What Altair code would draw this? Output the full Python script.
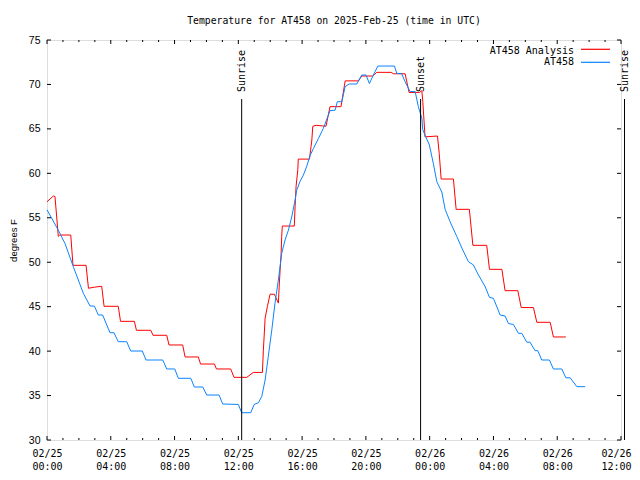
import altair as alt
import pandas as pd

series_names = ["AT458 Analysis", "AT458"]
series_colors = ["#FF0000", "#0A84FF"]

red_hours = [0.00, 0.40, 0.50, 0.71, 0.80, 1.49, 1.63, 2.45, 2.60, 3.00, 3.43, 3.58, 4.47, 4.61, 5.48, 5.61,
             6.51, 6.65, 7.51, 7.65, 8.51, 8.66, 9.49, 9.63, 10.50, 10.63, 11.52, 11.73, 12.53, 12.94, 13.51,
             13.57, 13.68, 13.82, 13.99, 14.26, 14.51, 14.56, 14.62, 14.68, 14.72, 14.76, 15.51, 15.56, 15.62,
             15.73, 15.76, 16.46, 16.56, 16.61, 16.67, 16.88, 17.50, 17.75, 18.44, 18.70, 19.53, 19.74, 20.43,
             20.68, 21.58, 21.73, 22.46, 22.71, 23.36, 23.51, 23.57, 23.71, 24.49, 24.60, 24.72, 25.49, 25.66,
             26.49, 26.71, 27.58, 27.75, 28.53, 28.73, 29.53, 29.74, 30.51, 30.72, 31.56, 31.76, 32.54]
red_temps = [56.8, 57.45, 57.4, 52.9, 53.06, 53.06, 49.65, 49.65, 47.07, 47.2, 47.3, 45.04, 45.04, 43.35, 43.35,
             42.34, 42.34, 41.78, 41.78, 40.69, 40.69, 39.34, 39.34, 38.55, 38.55, 37.99, 37.99, 37.05, 37.05,
             37.6, 37.6, 40.1, 43.7, 45.0, 46.4, 46.4, 45.4, 47.2, 49.1, 50.8, 52.9, 54.07, 54.07, 56.25, 58.5,
             60.4, 61.6, 61.6, 63.0, 63.75, 65.3, 65.4, 65.3, 67.5, 67.5, 70.4, 70.4, 70.95, 70.95, 71.36, 71.36,
             71.2, 71.2, 69.1, 69.1, 69.3, 68.06, 64.1, 64.2, 62.25, 59.36, 59.36, 55.95, 55.95, 51.9, 51.9,
             49.2, 49.2, 46.8, 46.8, 44.9, 44.9, 43.24, 43.24, 41.59, 41.59]

blue_hours = [0.00, 0.71, 1.13, 1.65, 2.28, 2.70, 2.97, 3.22, 3.49, 3.95, 4.20, 4.47, 5.00, 5.25, 5.98, 6.21,
              7.26, 7.51, 8.01, 8.24, 9.02, 9.24, 9.77, 10.02, 10.79, 11.02, 12.00, 12.21, 12.78, 12.99, 13.26,
              13.47, 13.68, 13.88, 14.10, 14.30, 14.51, 14.72, 14.93, 15.14, 15.35, 15.56, 15.66, 15.87, 16.08,
              16.29, 16.50, 16.71, 17.02, 17.33, 17.75, 18.07, 18.21, 18.49, 18.70, 18.95, 19.43, 19.74, 20.01,
              20.22, 20.47, 20.75, 21.79, 21.94, 22.25, 22.46, 22.77, 23.09, 23.29, 23.51, 23.57, 23.71, 23.98,
              24.23, 24.45, 24.76, 24.97, 25.28, 25.70, 26.02, 26.43, 26.74, 27.06, 27.48, 27.75, 28.00, 28.42,
              28.73, 28.94, 29.25, 29.57, 29.78, 30.09, 30.30, 30.61, 30.78, 31.03, 31.51, 31.76, 32.29, 32.54,
              32.81, 33.23, 33.75]
blue_temps = [55.9, 53.6, 52.1, 49.5, 46.5, 45.07, 45.07, 44.06, 44.06, 42.07, 42.07, 41.06, 41.06, 40.01, 40.01,
              39.0, 39.0, 37.99, 37.99, 36.94, 36.94, 35.96, 35.96, 35.06, 35.06, 34.05, 34.0, 33.07, 33.07, 34.0,
              34.2, 34.9, 36.75, 39.4, 42.4, 45.4, 48.0, 51.0, 52.5, 53.6, 55.1, 57.0, 58.1, 59.1, 59.8, 60.8,
              62.0, 62.8, 63.9, 65.06, 67.05, 67.1, 68.06, 68.06, 69.75, 70.05, 70.05, 71.06, 71.06, 70.1, 71.06,
              72.07, 72.07, 71.25, 71.2, 70.3, 69.2, 69.2, 67.5, 66.2, 64.9, 64.3, 63.2, 61.1, 59.06, 57.9, 55.95,
              54.56, 52.9, 51.6, 50.06, 49.7, 48.56, 47.25, 46.05, 45.94, 44.06, 43.95, 43.1, 43.0, 42.0, 42.0,
              41.0, 41.0, 40.05, 40.05, 39.0, 39.0, 37.99, 37.99, 37.0, 37.0, 36.0, 36.0]

sun_names = ["Sunrise", "Sunset", "Sunrise"]
sun_hours = [12.21, 23.43, 36.22]

x_tick_hours = [0, 4, 8, 12, 16, 20, 24, 28, 32, 36]
x_minor_hours = [1, 2, 3, 5, 6, 7, 9, 10, 11, 13, 14, 15, 17, 18, 19, 21, 22, 23, 25, 26, 27, 29, 30, 31, 33, 34, 35]
x_day_labels = ["02/25", "02/25", "02/25", "02/25", "02/25", "02/25", "02/26", "02/26", "02/26", "02/26"]
x_time_labels = ["00:00", "04:00", "08:00", "12:00", "16:00", "20:00", "00:00", "04:00", "08:00", "12:00"]
y_tick_values = [30, 35, 40, 45, 50, 55, 60, 65, 70, 75]

W, H = 574, 400
MONO = "DejaVu Sans Mono"
SANS = "Liberation Sans"

df = pd.concat([
    pd.DataFrame({"series": series_names[0], "h": red_hours, "temp": red_temps}),
    pd.DataFrame({"series": series_names[1], "h": blue_hours, "temp": blue_temps}),
])
sun_df = pd.DataFrame({"name": sun_names, "h": sun_hours})
major_df = pd.DataFrame({"h": x_tick_hours})
minor_df = pd.DataFrame({"h": x_minor_hours})
ytick_df = pd.DataFrame({"temp": y_tick_values})
legend_df = pd.DataFrame({"series": series_names, "row": [0, 1]})

label_expr = "[" + ",".join(f"['{d}','{t}']" for d, t in zip(x_day_labels, x_time_labels)) + "][round(datum.value/4)]"

xscale = alt.Scale(domain=[0, 36], nice=False, zero=False)
yscale = alt.Scale(domain=[30, 75], nice=False, zero=False)
color = alt.Color("series:N", scale=alt.Scale(domain=series_names, range=series_colors), legend=None)

x_main = alt.X("h:Q", scale=xscale, axis=alt.Axis(
    values=x_tick_hours, labelExpr=label_expr, ticks=False, domain=False, grid=False,
    labelFont=MONO, labelFontSize=10, labelPadding=8, labelLineHeight=13, labelColor="black",
    labelBaseline="top", labelAngle=0, labelFlush=False, labelOverlap=False, title=None,
    labelOffset={"condition": {"test": "datum.value >= 36", "value": -5}, "value": 0}))
y_main = alt.Y("temp:Q", scale=yscale, axis=alt.Axis(
    values=y_tick_values, ticks=False, domain=False, grid=False,
    labelFont=SANS, labelFontSize=10.5, labelPadding=7, labelColor="black",
    title="degrees F", titleFont=SANS, titleFontSize=9.5, titleFontWeight="normal",
    titleColor="black", titlePadding=10))

red_line = alt.Chart(df).transform_filter(alt.datum.series == series_names[0]).mark_line(
    strokeWidth=1, interpolate="linear").encode(x=x_main, y=y_main, color=color, order="h:Q")
blue_line = alt.Chart(df).transform_filter(alt.datum.series == series_names[1]).mark_line(
    strokeWidth=1, interpolate="linear").encode(x=alt.X("h:Q"), y=alt.Y("temp:Q"), color=color, order="h:Q")

sun_rules = alt.Chart(sun_df).mark_rule(color="black", strokeWidth=1, clip=False).encode(
    x="h:Q", y=alt.value(59), y2=alt.value(H))
sun_text = alt.Chart(sun_df).mark_text(angle=270, align="left", baseline="middle", font=MONO,
                                       fontSize=10, color="black", clip=False).encode(
    x="h:Q", y=alt.value(52), text="name:N")

tick_layers = []
for src, ln in ((major_df, 4), (minor_df, 2)):
    tick_layers.append(alt.Chart(src).mark_rule(color="black", strokeWidth=1).encode(
        x="h:Q", y=alt.value(H), y2=alt.value(H - ln)))
    tick_layers.append(alt.Chart(src).mark_rule(color="black", strokeWidth=1).encode(
        x="h:Q", y=alt.value(0), y2=alt.value(ln)))
tick_layers.append(alt.Chart(ytick_df).mark_rule(color="black", strokeWidth=1).encode(
    y="temp:Q", x=alt.value(0), x2=alt.value(4)))
tick_layers.append(alt.Chart(ytick_df).mark_rule(color="black", strokeWidth=1).encode(
    y="temp:Q", x=alt.value(W), x2=alt.value(W - 4)))

legend_layers = []
for i, name in enumerate(series_names):
    legend_layers.append(alt.Chart(legend_df).transform_filter(alt.datum.row == i).mark_text(
        align="right", baseline="middle", font=MONO, fontSize=10, color="black").encode(
        text="series:N", x=alt.value(527), y=alt.value(10.7 + 11.6 * i)))
    legend_layers.append(alt.Chart(legend_df).transform_filter(alt.datum.row == i).mark_rule(
        strokeWidth=1.2, color=series_colors[i]).encode(
        x=alt.value(534), x2=alt.value(563), y=alt.value(9.3 + 13 * i)))

chart = alt.layer(red_line, blue_line, sun_rules, sun_text, *tick_layers, *legend_layers).properties(
    width=W, height=H,
    title=alt.TitleParams(text="Temperature for AT458 on 2025-Feb-25 (time in UTC)", font=MONO,
                          fontSize=9.75, fontWeight="normal", anchor="middle", offset=9, color="black"),
    autosize=alt.AutoSizeParams(type="none"),
    padding={"left": 39, "top": 32, "right": 11, "bottom": 32},
).configure_view(stroke="black", strokeWidth=1).configure(background="white")

chart.save("out.html", embed_options={"renderer": "svg", "actions": False})
